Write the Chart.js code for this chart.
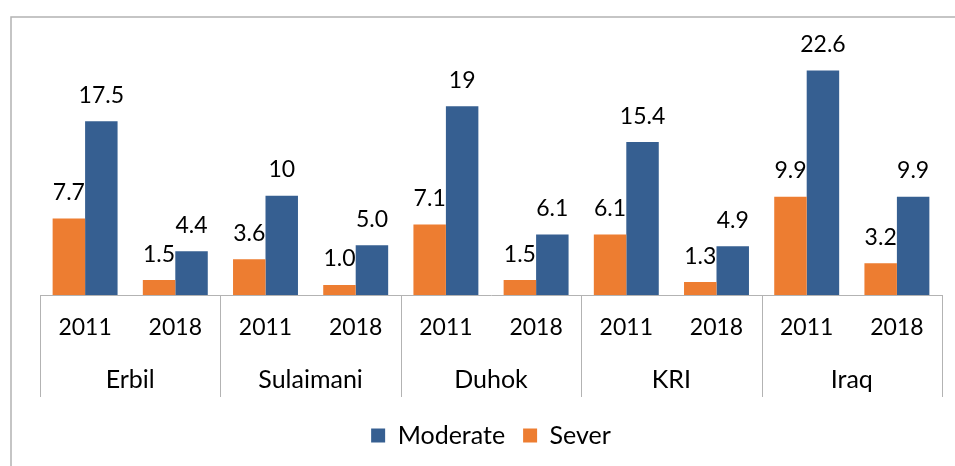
<!DOCTYPE html>
<html>
<head>
<meta charset="utf-8">
<title>Moderate and Sever</title>
<script src="https://cdn.jsdelivr.net/npm/chart.js@4.4.1/dist/chart.umd.min.js"></script>
<style>
  html, body { margin: 0; padding: 0; background: #fff; }
  #wrap { width: 955px; height: 466px; position: relative; }
</style>
</head>
<body>
<div id="wrap"><canvas id="chart"></canvas></div>
<script>
// Data
const years = ['2011', '2018', '2011', '2018', '2011', '2018', '2011', '2018', '2011', '2018'];
const regions = ['Erbil', 'Sulaimani', 'Duhok', 'KRI', 'Iraq'];
const moderate = [17.5, 4.4, 10, 5.0, 19, 6.1, 15.4, 4.9, 22.6, 9.9];
const sever = [7.7, 1.5, 3.6, 1.0, 7.1, 1.5, 6.1, 1.3, 9.9, 3.2];
const moderateText = ['17.5', '4.4', '10', '5.0', '19', '6.1', '15.4', '4.9', '22.6', '9.9'];
const severText = ['7.7', '1.5', '3.6', '1.0', '7.1', '1.5', '6.1', '1.3', '9.9', '3.2'];

const FONT = 'Lato, "Open Sans", sans-serif';
const GRAY = '#b3b3b3';

// frame, value labels, group labels and separators
const extras = {
  id: 'extras',
  beforeDraw(chart) {
    const ctx = chart.ctx;
    ctx.save();
    ctx.strokeStyle = GRAY;
    ctx.lineWidth = 1.5;
    ctx.beginPath();
    ctx.moveTo(11, chart.height);
    ctx.lineTo(11, 17);
    ctx.lineTo(chart.width, 17);
    ctx.stroke();
    ctx.restore();
  },
  afterDatasetsDraw(chart) {
    const ctx = chart.ctx;
    ctx.save();
    ctx.font = '23px ' + FONT;
    ctx.fillStyle = '#000';
    ctx.textAlign = 'center';
    ctx.textBaseline = 'middle';
    chart.data.datasets.forEach((ds, di) => {
      chart.getDatasetMeta(di).data.forEach((bar, i) => {
        ctx.fillText(ds.valueText[i], bar.x, bar.y - 26);
      });
    });
    ctx.restore();
  },
  afterDraw(chart) {
    const ctx = chart.ctx;
    const x = chart.scales.x;
    const area = chart.chartArea;
    ctx.save();
    ctx.strokeStyle = GRAY;
    ctx.lineWidth = 1;
    for (let g = 0; g <= regions.length; g++) {
      let px;
      if (g === 0) px = area.left;
      else if (g === regions.length) px = area.right;
      else px = (x.getPixelForValue(2 * g - 1) + x.getPixelForValue(2 * g)) / 2;
      px = Math.round(px) + 0.5;
      ctx.beginPath();
      ctx.moveTo(px, area.bottom);
      ctx.lineTo(px, area.bottom + 102);
      ctx.stroke();
    }
    ctx.font = '25px ' + FONT;
    ctx.fillStyle = '#000';
    ctx.textAlign = 'center';
    ctx.textBaseline = 'middle';
    regions.forEach((r, g) => {
      const cx = (x.getPixelForValue(2 * g) + x.getPixelForValue(2 * g + 1)) / 2;
      ctx.fillText(r, cx, area.bottom + 85);
    });
    ctx.restore();
  }
};

new Chart(document.getElementById('chart'), {
  type: 'bar',
  data: {
    labels: years,
    datasets: [
      {
        label: 'Sever',
        data: sever,
        valueText: severText,
        backgroundColor: '#ED7D31',
        categoryPercentage: 0.72,
        barPercentage: 1.0
      },
      {
        label: 'Moderate',
        data: moderate,
        valueText: moderateText,
        backgroundColor: '#365F91',
        categoryPercentage: 0.72,
        barPercentage: 1.0
      }
    ]
  },
  options: {
    responsive: true,
    maintainAspectRatio: false,
    animation: false,
    layout: {
      padding: { left: 40, right: 13, top: 17, bottom: 8 }
    },
    plugins: {
      legend: {
        position: 'bottom',
        reverse: true,
        labels: {
          font: { size: 25, family: FONT },
          color: '#000',
          boxWidth: 14,
          boxHeight: 14,
          padding: 18
        }
      },
      tooltip: { enabled: false }
    },
    scales: {
      y: {
        display: false,
        min: 0,
        max: 28
      },
      x: {
        grid: { display: false, drawTicks: false },
        border: { display: true, color: GRAY, width: 1 },
        ticks: {
          font: { size: 23, family: FONT },
          color: '#000',
          padding: 19,
          maxRotation: 0,
          autoSkip: false
        },
        afterFit(scale) {
          scale.height = 110;
        }
      }
    }
  },
  plugins: [extras]
});
</script>
</body>
</html>
